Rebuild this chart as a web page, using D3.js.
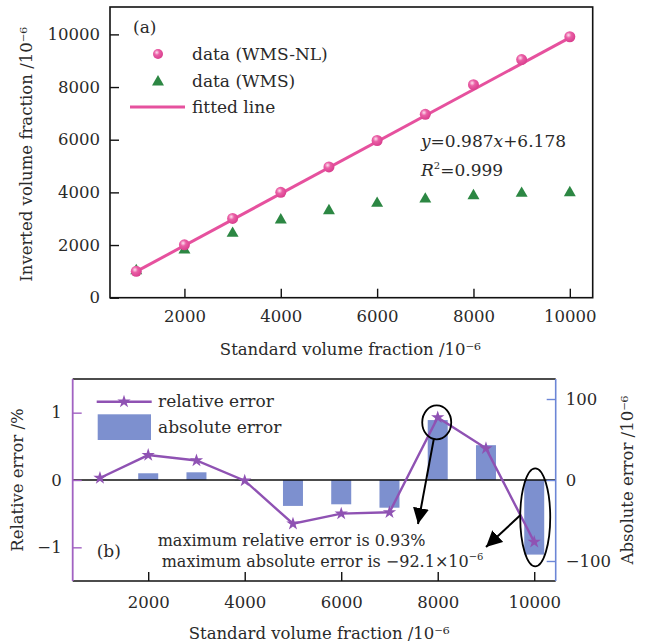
<!DOCTYPE html>
<html>
<head>
<meta charset="utf-8">
<script src="https://cdn.jsdelivr.net/npm/d3@7"></script>
<style>
  body { margin: 0; background: #fff; }
  text { font-family: "DejaVu Serif", serif; fill: #2a2a2a; }
</style>
</head>
<body>
<svg id="chart" width="651" height="644"></svg>
<script>
// ---- data ----
const standard = [1000, 2000, 3000, 4000, 5000, 6000, 7000, 8000, 9000, 10000];
const invertedNL = [1000, 2008, 3009, 4000, 4968, 5970, 6966, 8090, 9043, 9910];
const invertedWMS = [1025, 1810, 2445, 2950, 3303, 3584, 3747, 3872, 3963, 3986];
const fitSlope = 0.987, fitIntercept = 6.178;
const fitRange = [910, 10000];
const relError = [0.03, 0.37, 0.29, -0.01, -0.65, -0.50, -0.48, 0.93, 0.47, -0.92];
const absError = [0.3, 8.3, 9.5, -0.4, -32, -30, -34.2, 74, 43, -92.1];
const xTicks = [2000, 4000, 6000, 8000, 10000];
const topYTicks = [0, 2000, 4000, 6000, 8000, 10000];
const relTicks = [-1, 0, 1];
const absTicks = [-100, 0, 100];

const pink = "#e6519e", green = "#2c8743", purple = "#8f52b3",
      purpleAxis = "#a162c2", blueAxis = "#6c86d6", barColor = "#7d90cf";
const tickFont = 16.5;

const svg = d3.select("#chart");

// gradient for sphere markers
const defs = svg.append("defs");
const grad = defs.append("radialGradient").attr("id", "sphere")
    .attr("cx", "38%").attr("cy", "35%").attr("r", "65%");
grad.append("stop").attr("offset", "0%").attr("stop-color", "#fde2ef");
grad.append("stop").attr("offset", "40%").attr("stop-color", "#ea5fa6");
grad.append("stop").attr("offset", "100%").attr("stop-color", "#d93f8e");

defs.append("marker").attr("id", "arrow")
    .attr("viewBox", "0 0 10 10").attr("refX", 10).attr("refY", 5)
    .attr("markerWidth", 8).attr("markerHeight", 8)
    .attr("markerUnits", "strokeWidth")
    .attr("orient", "auto")
    .append("path").attr("d", "M0,0L10,5L0,10Z").attr("fill", "#000");

const styleTicks = (g, color) => {
  g.selectAll("text").attr("font-size", tickFont).attr("font-family", "DejaVu Serif").attr("fill", "#2a2a2a");
  g.selectAll(".tick line").attr("stroke", color).attr("stroke-width", 1.4);
  g.select(".domain").remove();
};

// ================= panel (a) =================
const A = {left: 110, top: 7, right: 592.7, bottom: 297.7};
const xA = d3.scaleLinear().domain([455, 10475]).range([A.left, A.right]);
const yA = d3.scaleLinear().domain([0, 11040]).range([A.bottom, A.top]);

const gA = svg.append("g");

gA.append("g")
    .attr("transform", "translate(0," + A.bottom + ")")
    .call(d3.axisBottom(xA).tickValues(xTicks).tickSize(-9).tickPadding(13).tickFormat(d3.format("d")))
    .call(g => styleTicks(g, "#111"));

gA.append("g")
    .attr("transform", "translate(" + A.left + ",0)")
    .call(d3.axisLeft(yA).tickValues(topYTicks).tickSize(-9).tickPadding(10).tickFormat(d3.format("d")))
    .call(g => styleTicks(g, "#111"));

gA.append("rect")
    .attr("x", A.left).attr("y", A.top)
    .attr("width", A.right - A.left).attr("height", A.bottom - A.top)
    .attr("fill", "none").attr("stroke", "#111").attr("stroke-width", 1.6);

// fitted line
gA.append("line")
    .attr("x1", xA(fitRange[0])).attr("y1", yA(fitSlope * fitRange[0] + fitIntercept))
    .attr("x2", xA(fitRange[1])).attr("y2", yA(fitSlope * fitRange[1] + fitIntercept))
    .attr("stroke", pink).attr("stroke-width", 3);

// WMS triangles
gA.append("g").selectAll("path")
    .data(standard)
    .join("path")
    .attr("transform", (d, i) => "translate(" + xA(d) + "," + yA(invertedWMS[i]) + ")")
    .attr("d", d3.symbol(d3.symbolTriangle, 62))
    .attr("fill", green);

// WMS-NL spheres
gA.append("g").selectAll("circle")
    .data(standard)
    .join("circle")
    .attr("cx", d => xA(d))
    .attr("cy", (d, i) => yA(invertedNL[i]))
    .attr("r", 5.5)
    .attr("fill", "url(#sphere)");

// legend
gA.append("text").attr("x", 133).attr("y", 33).attr("font-size", 17).text("(a)");
gA.append("circle").attr("cx", 158).attr("cy", 54).attr("r", 5).attr("fill", "url(#sphere)");
gA.append("text").attr("x", 192).attr("y", 60).attr("font-size", 17).text("data (WMS-NL)");
gA.append("path").attr("transform", "translate(158,82)")
    .attr("d", d3.symbol(d3.symbolTriangle, 62)).attr("fill", green);
gA.append("text").attr("x", 192).attr("y", 87).attr("font-size", 17).text("data (WMS)");
gA.append("line").attr("x1", 130).attr("x2", 185).attr("y1", 107).attr("y2", 107)
    .attr("stroke", pink).attr("stroke-width", 3);
gA.append("text").attr("x", 192).attr("y", 113).attr("font-size", 17).text("fitted line");

// equation
const eq = gA.append("text").attr("x", 421).attr("y", 147).attr("font-size", 17);
eq.append("tspan").attr("font-style", "italic").text("y");
eq.append("tspan").text("=0.987");
eq.append("tspan").attr("font-style", "italic").text("x");
eq.append("tspan").text("+6.178");
const r2 = gA.append("text").attr("x", 421).attr("y", 176).attr("font-size", 17);
r2.append("tspan").attr("font-style", "italic").text("R");
r2.append("tspan").attr("font-size", 10).attr("dy", -7).text("2");
r2.append("tspan").attr("dy", 7).text("=0.999");

// axis titles
gA.append("text")
    .attr("transform", "translate(32," + ((A.top + A.bottom) / 2 + 2) + ") rotate(-90)")
    .attr("text-anchor", "middle").attr("font-size", 16.5)
    .text("Inverted volume fraction /10⁻⁶");
gA.append("text")
    .attr("x", (A.left + A.right) / 2 - 1).attr("y", 355)
    .attr("text-anchor", "middle").attr("font-size", 16.5)
    .text("Standard volume fraction /10⁻⁶");

// ================= panel (b) =================
const B = {left: 72.7, top: 379, right: 555.7, bottom: 581};
const xB = d3.scaleLinear().domain([435, 10445]).range([B.left, B.right]);
const yRel = d3.scaleLinear().domain([-1.5, 1.5]).range([B.bottom, B.top]);
const yAbs = d3.scaleLinear().domain([-124.7, 124.7]).range([B.bottom, B.top]);

const gB = svg.append("g");

// bars
gB.append("g").selectAll("rect")
    .data(standard)
    .join("rect")
    .attr("x", d => xB(d) - 10)
    .attr("width", 20)
    .attr("y", (d, i) => Math.min(yAbs(absError[i]), yAbs(0)))
    .attr("height", (d, i) => Math.abs(yAbs(absError[i]) - yAbs(0)))
    .attr("fill", barColor);

// zero line
gB.append("line")
    .attr("x1", B.left).attr("x2", B.right)
    .attr("y1", yRel(0)).attr("y2", yRel(0))
    .attr("stroke", "#111").attr("stroke-width", 1.3);

// axes
const minusFmt = d => d < 0 ? "−" + Math.abs(d) : d;
gB.append("g")
    .attr("transform", "translate(0," + B.bottom + ")")
    .call(d3.axisBottom(xB).tickValues(xTicks).tickSize(-9).tickPadding(15).tickFormat(d3.format("d")))
    .call(g => styleTicks(g, "#111"));

gB.append("g")
    .attr("transform", "translate(" + B.left + ",0)")
    .call(d3.axisLeft(yRel).tickValues(relTicks).tickSize(-9).tickPadding(11).tickFormat(minusFmt))
    .call(g => styleTicks(g, purpleAxis));

gB.append("g")
    .attr("transform", "translate(" + B.right + ",0)")
    .call(d3.axisRight(yAbs).tickValues(absTicks).tickSize(-9).tickPadding(10).tickFormat(minusFmt))
    .call(g => styleTicks(g, blueAxis));

// frame
gB.append("line").attr("x1", B.left).attr("x2", B.right).attr("y1", B.top).attr("y2", B.top)
    .attr("stroke", "#111").attr("stroke-width", 1.6);
gB.append("line").attr("x1", B.left).attr("x2", B.right).attr("y1", B.bottom).attr("y2", B.bottom)
    .attr("stroke", "#111").attr("stroke-width", 1.6);
gB.append("line").attr("x1", B.left).attr("x2", B.left).attr("y1", B.top).attr("y2", B.bottom)
    .attr("stroke", purpleAxis).attr("stroke-width", 1.8);
gB.append("line").attr("x1", B.right).attr("x2", B.right).attr("y1", B.top).attr("y2", B.bottom)
    .attr("stroke", blueAxis).attr("stroke-width", 1.6);

// relative error line + stars
const relLine = d3.line()
    .x(d => xB(d))
    .y((d, i) => yRel(relError[i]));
gB.append("path")
    .attr("d", relLine(standard))
    .attr("fill", "none").attr("stroke", purple).attr("stroke-width", 2.4);
gB.append("g").selectAll("path")
    .data(standard)
    .join("path")
    .attr("transform", (d, i) => "translate(" + xB(d) + "," + yRel(relError[i]) + ")")
    .attr("d", d3.symbol(d3.symbolStar, 55))
    .attr("fill", purple);

// legend
gB.append("line").attr("x1", 96.7).attr("x2", 151.7).attr("y1", 401.7).attr("y2", 401.7)
    .attr("stroke", purple).attr("stroke-width", 2.4);
gB.append("path").attr("transform", "translate(124,401.7)")
    .attr("d", d3.symbol(d3.symbolStar, 55)).attr("fill", purple);
gB.append("text").attr("x", 158).attr("y", 407).attr("font-size", 17).text("relative error");
gB.append("rect").attr("x", 97.7).attr("y", 414.3).attr("width", 53.3).attr("height", 25.7)
    .attr("fill", barColor);
gB.append("text").attr("x", 158).attr("y", 433).attr("font-size", 17).text("absolute error");
gB.append("text").attr("x", 96.7).attr("y", 557).attr("font-size", 17).text("(b)");

// annotation text
gB.append("text").attr("x", 157.7).attr("y", 546).attr("font-size", 16)
    .text("maximum relative error is 0.93%");
const t2 = gB.append("text").attr("x", 161.7).attr("y", 567).attr("font-size", 16);
t2.append("tspan").text("maximum absolute error is −92.1×10");
t2.append("tspan").attr("font-size", 10).attr("dy", -7).text("−6");

// ellipses and arrows anchored to the extreme points
const iRel = d3.maxIndex(relError, d => Math.abs(d));
const iAbs = d3.maxIndex(absError, d => Math.abs(d));
const e1 = {cx: xB(standard[iRel]) - 1, cy: yRel(relError[iRel]) + 5, rx: 14.5, ry: 17};
const e2 = {cx: xB(standard[iAbs]) + 1, cy: (yAbs(absError[iAbs]) + yAbs(0)) / 2, rx: 15, ry: 49};
[e1, e2].forEach(e => {
  gB.append("ellipse")
    .attr("cx", e.cx).attr("cy", e.cy).attr("rx", e.rx).attr("ry", e.ry)
    .attr("fill", "none").attr("stroke", "#000").attr("stroke-width", 1.8);
});
gB.append("line")
    .attr("x1", e1.cx - 3).attr("y1", e1.cy + e1.ry)
    .attr("x2", 418).attr("y2", 524)
    .attr("stroke", "#000").attr("stroke-width", 2).attr("marker-end", "url(#arrow)");
gB.append("line")
    .attr("x1", e2.cx - e2.rx).attr("y1", e2.cy - 2)
    .attr("x2", 486).attr("y2", 547)
    .attr("stroke", "#000").attr("stroke-width", 2).attr("marker-end", "url(#arrow)");

// titles
gB.append("text")
    .attr("transform", "translate(23," + ((B.top + B.bottom) / 2) + ") rotate(-90)")
    .attr("text-anchor", "middle").attr("font-size", 16.5)
    .text("Relative error /%");
gB.append("text")
    .attr("transform", "translate(633," + ((B.top + B.bottom) / 2) + ") rotate(-90)")
    .attr("text-anchor", "middle").attr("font-size", 16.5)
    .text("Absolute error /10⁻⁶");
gB.append("text")
    .attr("x", (B.left + B.right) / 2 + 5).attr("y", 639)
    .attr("text-anchor", "middle").attr("font-size", 16.5)
    .text("Standard volume fraction /10⁻⁶");
</script>
</body>
</html>
